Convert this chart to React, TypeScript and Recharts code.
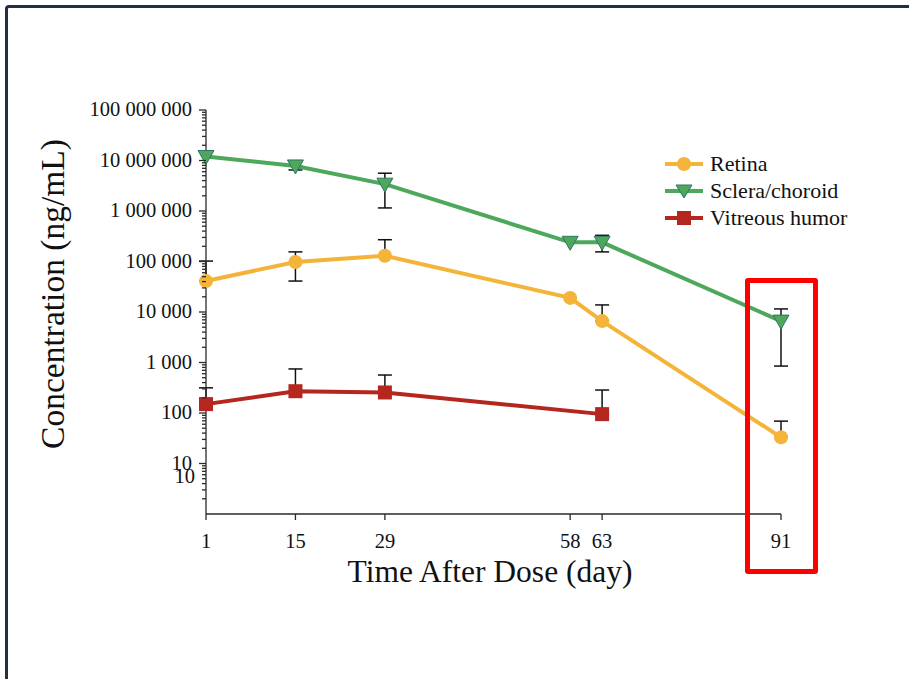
import { LineChart, Line, XAxis, YAxis, ErrorBar, Legend } from "recharts";

// sampling days
const days = [1, 15, 29, 58, 63, 91];
const vitreousDays = [1, 15, 29, 63];

// concentrations (ng/mL)
const retinaValues = [41000, 98000, 130000, 19000, 6600, 33];
const scleraValues = [12000000, 7800000, 3400000, 240000, 240000, 6600];
const vitreousValues = [150, 270, 255, 95];

// error bars as [below, above], null where none is drawn
const retinaErrors = [[0, 61000], [57000, 57000], [0, 140000], null, [0, 7200], [0, 36]];
const scleraErrors = [null, [1300000, 0], [2250000, 2200000], null, [85000, 90000], [5750, 4900]];
const vitreousErrors = [[0, 165], [0, 475], [0, 310], [0, 190]];

const yMajor = [10, 100, 1000, 10000, 100000, 1000000, 10000000, 100000000];
const yMinor = [1, ...yMajor.slice(0, -1)].flatMap((d) => [2, 3, 4, 5, 6, 7, 8, 9].map((m) => d * m));

const RETINA = "#f4b43a";
const SCLERA = "#4ea85c";
const VITREOUS = "#b5261f";
const AXIS = "#2a2a2a";
const FONT = '"Liberation Serif", "Times New Roman", serif';

const retinaData = days.map((day, i) => ({ day, value: retinaValues[i], err: retinaErrors[i] }));
const scleraData = days.map((day, i) => ({ day, value: scleraValues[i], err: scleraErrors[i] }));
const vitreousData = vitreousDays.map((day, i) => ({ day, value: vitreousValues[i], err: vitreousErrors[i] }));

const fmt = (v: number) => v.toLocaleString("en-US").replace(/,/g, " ");

const YTick = (props: any) => {
  const { x, y, payload } = props;
  const v = payload.value;
  const major = yMajor.includes(v);
  return (
    <g>
      <line x1={x - (major ? 7 : 4)} x2={x} y1={y} y2={y} stroke={AXIS} strokeWidth={1.3} />
      {major && (
        <text x={x - 14} y={y} dy={6} textAnchor="end" fontFamily={FONT} fontSize={20.5} fill="#111">
          {fmt(v)}
        </text>
      )}
      {v === 10 && (
        <text x={x - 11} y={y} dy={19} textAnchor="end" fontFamily={FONT} fontSize={20.5} fill="#111">
          10
        </text>
      )}
    </g>
  );
};

const circleDot = (p: any) => <circle key={p.index} cx={p.cx} cy={p.cy} r={7} fill={RETINA} />;
const triangleDot = (p: any) => (
  <path
    key={p.index}
    d={`M${p.cx - 8},${p.cy - 6} L${p.cx + 8},${p.cy - 6} L${p.cx},${p.cy + 8} Z`}
    fill={SCLERA}
    stroke="#2f7468"
    strokeWidth={1}
  />
);
const squareDot = (p: any) => (
  <rect key={p.index} x={p.cx - 7} y={p.cy - 7} width={14} height={14} fill={VITREOUS} />
);

const XTitle = () => (
  <text x={490} y={582} textAnchor="middle" fontFamily={FONT} fontSize={31.5} fill="#111">
    Time After Dose (day)
  </text>
);

const YTitle = () => (
  <text x={64} y={294} transform="rotate(-90 64 294)" textAnchor="middle" fontFamily={FONT} fontSize={33.5} fill="#111">
    Concentration (ng/mL)
  </text>
);

const legendItems = [
  { name: "Retina", color: RETINA, shape: "circle" },
  { name: "Sclera/choroid", color: SCLERA, shape: "triangle" },
  { name: "Vitreous humor", color: VITREOUS, shape: "square" },
];

const renderLegend = () => (
  <div style={{ fontFamily: FONT, fontSize: 22, color: "#111" }}>
    {legendItems.map((item) => (
      <div key={item.name} style={{ display: "flex", alignItems: "center", height: 27 }}>
        <svg width={40} height={20} style={{ marginRight: 6 }}>
          <line x1={1} x2={39} y1={10} y2={10} stroke={item.color} strokeWidth={4} />
          {item.shape === "circle" && <circle cx={20} cy={10} r={7} fill={item.color} />}
          {item.shape === "triangle" && (
            <path d="M12,4 L28,4 L20,17 Z" fill={item.color} stroke="#2f7468" strokeWidth={1} />
          )}
          {item.shape === "square" && <rect x={13} y={3} width={14} height={14} fill={item.color} />}
        </svg>
        <span>{item.name}</span>
      </div>
    ))}
  </div>
);

export default function App() {
  return (
    <div style={{ position: "absolute", left: 0, top: 0, width: 909, height: 679, background: "#fff" }}>
      <div
        style={{
          position: "absolute",
          left: 5,
          top: 5,
          right: 0,
          bottom: 0,
          borderTop: "3px solid #22303e",
          borderLeft: "3px solid #22303e",
          borderTopLeftRadius: 4,
        }}
      />
      <LineChart width={909} height={679} margin={{ top: 110, right: 128, bottom: 125, left: 0 }}>
        <XAxis
          type="number"
          dataKey="day"
          domain={[1, 91]}
          ticks={days}
          interval={0}
          allowDuplicatedCategory={false}
          height={40}
          stroke={AXIS}
          strokeWidth={1.3}
          tickSize={6}
          tickMargin={13}
          tick={{ fontFamily: FONT, fontSize: 20.5, fill: "#111" }}
          label={<XTitle />}
        />
        <YAxis
          type="number"
          scale="log"
          domain={[1, 100000000]}
          allowDataOverflow
          ticks={[...yMinor, ...yMajor]}
          interval={0}
          width={206}
          stroke={AXIS}
          strokeWidth={1.3}
          tickLine={false}
          tickSize={0}
          tickMargin={0}
          tick={<YTick />}
          label={<YTitle />}
        />
        <Legend
          verticalAlign="middle"
          align="center"
          layout="horizontal"
          content={renderLegend}
          wrapperStyle={{ left: 664, top: 150, width: 230 }}
        />
        <Line
          data={retinaData}
          dataKey="value"
          name="Retina"
          stroke={RETINA}
          strokeWidth={4}
          dot={circleDot}
          isAnimationActive={false}
        >
          <ErrorBar dataKey="err" width={7} stroke="#111" strokeWidth={1.5} direction="y" />
        </Line>
        <Line
          data={scleraData}
          dataKey="value"
          name="Sclera/choroid"
          stroke={SCLERA}
          strokeWidth={4}
          dot={triangleDot}
          isAnimationActive={false}
        >
          <ErrorBar dataKey="err" width={7} stroke="#111" strokeWidth={1.5} direction="y" />
        </Line>
        <Line
          data={vitreousData}
          dataKey="value"
          name="Vitreous humor"
          stroke={VITREOUS}
          strokeWidth={4}
          dot={squareDot}
          isAnimationActive={false}
        >
          <ErrorBar dataKey="err" width={7} stroke="#111" strokeWidth={1.5} direction="y" />
        </Line>
      </LineChart>
      <div
        style={{
          position: "absolute",
          left: 745,
          top: 278,
          width: 73,
          height: 296,
          boxSizing: "border-box",
          border: "5px solid #ff0000",
          borderRadius: 3,
        }}
      />
    </div>
  );
}
